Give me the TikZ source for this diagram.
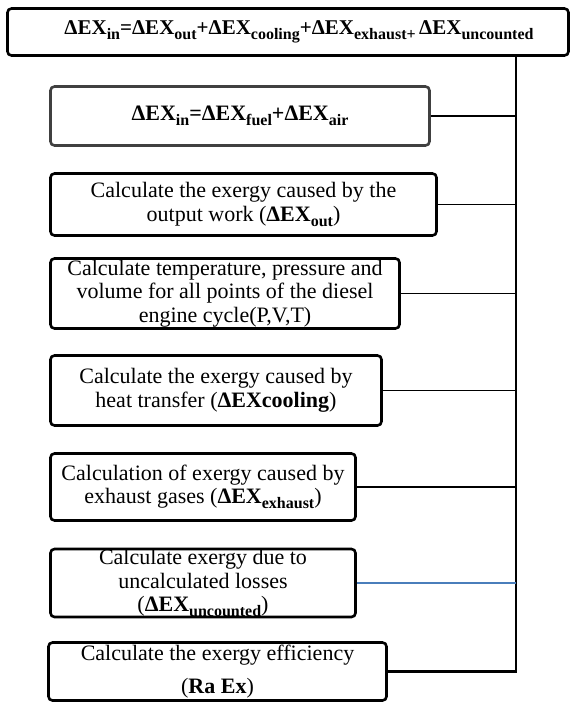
\documentclass[tikz,border=0pt]{standalone}
\usepackage{fontspec}
\setmainfont{Liberation Serif}
\definecolor{LinkBlue}{RGB}{74, 126, 187}
\definecolor{EdgeGrey}{RGB}{64, 64, 64}
\usetikzlibrary{positioning}
\newcommand{\dEX}[1]{\textbf{ΔEX\raisebox{-5pt}{\fontsize{16}{16}\selectfont #1}}}

\begin{document}
\begin{tikzpicture}[
    x=1pt, y=-1pt,
    every node/.style={font=\fontsize{22}{23.5}\selectfont, align=center},
    box/.style={draw=black, line width=2.6pt, rounded corners=4pt, inner sep=0pt},
    link/.style={draw=black, line width=1.5pt},
    trunk/.style={draw=black, line width=2.2pt}
]
\useasboundingbox (0,0) rectangle (571,704);
\node[box, minimum width=561, minimum height=47, font=\fontsize{21}{23}\selectfont] (total) at (288,32)
    {\hspace*{22pt}\dEX{in}\textbf{=}\dEX{out}\textbf{+}\dEX{cooling}\textbf{+}\dEX{exhaust+}\,\dEX{uncounted}};
\node[box, draw=EdgeGrey, minimum width=379, minimum height=59] (input) at (240,116)
    {\dEX{in}\textbf{=}\dEX{fuel}\textbf{+}\dEX{air}};
\node[box, minimum width=386, minimum height=62] (work) at (243.5,204.5)
    {Calculate the exergy caused by the\\output work (\dEX{out})};
\node[box, minimum width=349, minimum height=70] (cycle) at (225,293.5)
    {Calculate temperature, pressure and\\volume for all points of the diesel\\engine cycle(P,V,T)};
\node[box, minimum width=331, minimum height=70] (heat) at (216,390.5)
    {Calculate the exergy caused by\\heat transfer (\textbf{ΔEXcooling})};
\node[box, minimum width=305, minimum height=67] (exhaust) at (203,487)
    {Calculation of exergy caused by\\exhaust gases (\dEX{exhaust})};
\node[box, minimum width=305, minimum height=68] (losses) at (203,583)
    {Calculate exergy due to\\uncalculated losses\\(\dEX{uncounted})};
\node[box, minimum width=338, minimum height=58] (eff) at (217.5,671.5)
    {Calculate the exergy efficiency\\[9pt](\textbf{Ra Ex})};
\coordinate (bus) at (516,0);
\draw[trunk] (total.south -| bus) |- (eff.east);
\draw[link] (input.east) -- (input.east -| bus);
\draw[link] (work.east) -- (work.east -| bus);
\draw[link] (cycle.east) -- (cycle.east -| bus);
\draw[link] (heat.east) -- (heat.east -| bus);
\draw[link] (exhaust.east) -- (exhaust.east -| bus);
\draw[link, LinkBlue, line width=1.8pt] (losses.east) -- (losses.east -| bus);
\end{tikzpicture}
\end{document}
